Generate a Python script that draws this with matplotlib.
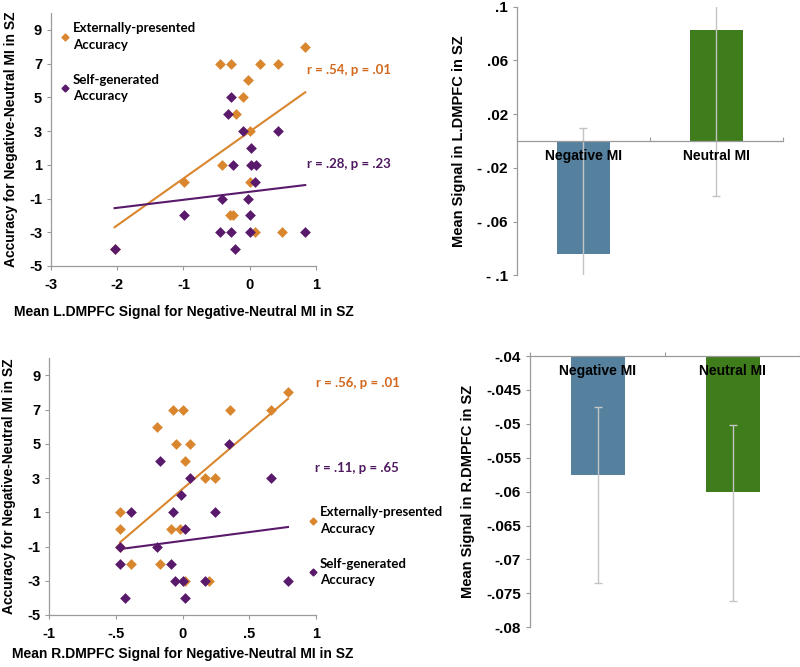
import matplotlib
matplotlib.use('Agg')
import matplotlib.pyplot as plt
from matplotlib.lines import Line2D

plt.rcParams['font.family'] = ['Liberation Sans', 'DejaVu Sans']
plt.rcParams['font.weight'] = 'bold'
plt.rcParams['axes.labelweight'] = 'bold'
plt.rcParams['axes.unicode_minus'] = False

ORANGE = '#D9862E'
PURPLE = '#5A1A6C'
ORANGE_TXT = '#D2691E'
PURPLE_TXT = '#4E1A60'
SPINE = '#9A9A9A'
BLUE_BAR = '#55819F'
GREEN_BAR = '#3F7D1C'
ERR = '#C4C4C4'

# --- L.DMPFC scatter ---
ext_x_L = [0.84, -0.45, -0.28, 0.15, 0.43, -0.02, -0.10, -0.21, 0.01, -0.42,
           -0.99, 0.01, -0.30, -0.25, 0.08, 0.49, -2.04]
ext_y_L = [8, 7, 7, 7, 7, 6, 5, 4, 3, 1, 0, 0, -2, -2, -3, -3, -4]
self_x_L = [-0.28, -0.32, -0.10, 0.43, 0.02, -0.25, 0.02, 0.10, 0.08, -0.42,
            -0.02, -0.99, 0.01, -0.45, -0.28, 0.01, 0.84, -2.04, -0.22]
self_y_L = [5, 4, 3, 3, 2, 1, 1, 1, 0, -1, -1, -2, -2, -3, -3, -3, -3, -4, -4]
fit_x_L = [-2.04, 0.84]
fit_ext_L = [-2.7, 5.3]
fit_self_L = [-1.57, -0.2]
stats_L = ['r = .54, p = .01', 'r = .28, p = .23']

# --- R.DMPFC scatter ---
ext_x_R = [0.79, -0.075, 0.005, 0.355, 0.66, -0.195, -0.05, 0.057, 0.015, 0.165,
           0.24, -0.47, -0.47, -0.09, -0.02, -0.385, -0.17, 0.017, 0.20, -0.47]
ext_y_R = [8, 7, 7, 7, 7, 6, 5, 5, 4, 3, 3, 1, 0, 0, 0, -2, -2, -3, -3, -1]
self_x_R = [0.35, -0.17, 0.055, 0.66, -0.01, -0.385, -0.075, 0.24, 0.017, -0.47,
            -0.19, -0.47, -0.09, -0.06, 0.005, 0.165, 0.79, -0.43, 0.017]
self_y_R = [5, 4, 3, 3, 2, 1, 1, 1, 0, -1, -1, -2, -2, -3, -3, -3, -3, -4, -4]
fit_x_R = [-0.47, 0.79]
fit_ext_R = [-0.76, 7.63]
fit_self_R = [-1.15, 0.14]
stats_R = ['r = .56, p = .01', 'r = .11, p = .65']

# --- bar charts ---
conditions = ['Negative MI', 'Neutral MI']
mean_L = [-0.084, 0.0824]
err_top_L = [0.0099, 0.205]
err_bot_L = [-0.178, -0.041]
mean_R = [-0.0575, -0.0601]
err_top_R = [-0.0475, -0.0501]
err_bot_R = [-0.0735, -0.0761]

y_ticks_acc = [-5, -3, -1, 1, 3, 5, 7, 9]
x_ticks_L = [-3, -2, -1, 0, 1]
x_ticks_R = [-1, -0.5, 0, 0.5, 1]
x_ticklabels_R = ['-1', '-.5', '0', '.5', '1']
bar_ticks_L = [-0.1, -0.06, -0.02, 0.02, 0.06, 0.1]
bar_ticklabels_L = ['- .1', '- .06', '- .02', '.02', '.06', '.1']
bar_ticks_R = [-0.08, -0.075, -0.07, -0.065, -0.06, -0.055, -0.05, -0.045, -0.04]
bar_ticklabels_R = ['-.08', '-.075', '-.07', '-.065', '-.06', '-.055', '-.05', '-.045', '-.04']

CAL = ['Lato', 'DejaVu Sans']


def bold_ticks(ax):
    for t in ax.get_xticklabels() + ax.get_yticklabels():
        t.set_fontweight('bold')
    for t in ax.get_xticklabels(minor=True):
        t.set_fontweight('bold')


def style_axes(ax):
    for s in ['top', 'right']:
        ax.spines[s].set_visible(False)
    for s in ['left', 'bottom']:
        ax.spines[s].set_color(SPINE)
        ax.spines[s].set_linewidth(0.9)
    ax.tick_params(colors=SPINE, labelcolor='black', labelsize=10.5, length=3, width=0.8)
    ax.tick_params(axis='x', pad=6)


def scatter_panel(ax, ex, ey, sx, sy, fx, fe, fs, stats, stat_pos):
    ax.scatter(ex, ey, marker='D', s=30, color=ORANGE, zorder=3, linewidths=0)
    ax.scatter(sx, sy, marker='D', s=30, color=PURPLE, zorder=4, linewidths=0)
    ax.plot(fx, fe, color=ORANGE, lw=1.5, zorder=2)
    ax.plot(fx, fs, color=PURPLE, lw=1.5, zorder=2)
    ax.set_ylim(-5, 10)
    ax.set_yticks(y_ticks_acc)
    ax.set_ylabel('Accuracy for Negative-Neutral MI in SZ', fontsize=10, fontweight='bold',
                  labelpad=8)
    style_axes(ax)
    ax.text(stat_pos[0][0], stat_pos[0][1], stats[0], color=ORANGE_TXT, fontsize=9.5,
            family=CAL, fontweight='bold', va='center', clip_on=False)
    ax.text(stat_pos[1][0], stat_pos[1][1], stats[1], color=PURPLE_TXT, fontsize=9.5,
            family=CAL, fontweight='bold', va='center', clip_on=False)


def legend_panel(ax, anchor, spacing):
    handles = [Line2D([], [], marker='D', ls='', color=ORANGE, markersize=3.5),
               Line2D([], [], marker='D', ls='', color=PURPLE, markersize=3.5)]
    labels = ['Externally-presented\nAccuracy', 'Self-generated\nAccuracy']
    leg = ax.legend(handles, labels, loc='upper left', bbox_to_anchor=anchor,
                    frameon=False, handlelength=0.5, handletextpad=0.3,
                    labelspacing=spacing, borderaxespad=0,
                    prop={'family': CAL, 'weight': 'bold', 'size': 9.5})
    for t in leg.get_texts():
        t.set_linespacing(1.45)
    return leg


def bar_panel(ax, means, tops, bots, colors):
    pos = [0.5, 1.5]
    ax.set_axisbelow(False)
    ax.bar(pos, means, width=0.4, color=colors, zorder=1)
    lower = [m - b for m, b in zip(means, bots)]
    upper = [t - m for m, t in zip(means, tops)]
    ax.errorbar(pos, means, yerr=[lower, upper], fmt='none', ecolor=ERR, elinewidth=1,
                capsize=3, capthick=1, zorder=1.5)
    ax.set_xlim(0, 2)
    for s in ['top', 'right']:
        ax.spines[s].set_visible(False)
    for s in ['left', 'bottom']:
        ax.spines[s].set_color(SPINE)
        ax.spines[s].set_linewidth(0.9)
    ax.set_xticks([0, 1, 2])
    ax.set_xticklabels([])
    ax.set_xticks(pos, minor=True)
    ax.set_xticklabels(conditions, minor=True, fontsize=11, fontweight='bold')
    ax.tick_params(axis='x', which='minor', length=0, pad=6)
    ax.tick_params(axis='x', which='major', colors=SPINE, length=3, direction='in')
    ax.tick_params(axis='y', colors=SPINE, labelcolor='black', labelsize=11, length=3)


fig = plt.figure(figsize=(8, 6.67), dpi=100)

# top-left
ax1 = fig.add_axes([0.0638, 0.6012, 0.331, 0.3793])
scatter_panel(ax1, ext_x_L, ext_y_L, self_x_L, self_y_L, fit_x_L, fit_ext_L, fit_self_L,
              stats_L, [(0.86, 6.63), (0.86, 1.05)])
ax1.set_xlim(-3, 1)
ax1.set_xticks(x_ticks_L)
ax1.set_xlabel('Mean L.DMPFC Signal for Negative-Neutral MI in SZ', fontsize=10,
               fontweight='bold', labelpad=9)
legend_panel(ax1, (0.022, 0.985), 1.75)
bold_ticks(ax1)

# top-right
ax2 = fig.add_axes([0.646, 0.5873, 0.3325, 0.4027])
bar_panel(ax2, mean_L, err_top_L, err_bot_L, [BLUE_BAR, GREEN_BAR])
ax2.set_ylim(-0.1, 0.1)
ax2.set_yticks(bar_ticks_L)
ax2.set_yticklabels(bar_ticklabels_L)
ax2.spines['bottom'].set_position(('data', 0))
ax2.set_ylabel('Mean Signal in L.DMPFC in SZ', fontsize=10.5, fontweight='bold', labelpad=8)
bold_ticks(ax2)

# bottom-left
ax3 = fig.add_axes([0.0616, 0.078, 0.3334, 0.3849])
scatter_panel(ax3, ext_x_R, ext_y_R, self_x_R, self_y_R, fit_x_R, fit_ext_R, fit_self_R,
              stats_R, [(1.0, 8.53), (0.99, 3.6)])
ax3.set_xlim(-1, 1)
ax3.set_xticks(x_ticks_R)
ax3.set_xticklabels(x_ticklabels_R)
ax3.set_xlabel('Mean R.DMPFC Signal for Negative-Neutral MI in SZ', fontsize=10,
               fontweight='bold', labelpad=4)
legend_panel(ax3, (0.955, 0.445), 1.75)
bold_ticks(ax3)

# bottom-right
ax4 = fig.add_axes([0.6625, 0.0595, 0.3375, 0.4067])
bar_panel(ax4, mean_R, err_top_R, err_bot_R, [BLUE_BAR, GREEN_BAR])
ax4.set_ylim(-0.08, -0.04)
ax4.set_yticks(bar_ticks_R)
ax4.set_yticklabels(bar_ticklabels_R)
ax4.spines['bottom'].set_position(('data', -0.04))
ax4.set_ylabel('Mean Signal in R.DMPFC in SZ', fontsize=10.5, fontweight='bold', labelpad=8)
bold_ticks(ax4)

fig.savefig('out.png', dpi=100)
